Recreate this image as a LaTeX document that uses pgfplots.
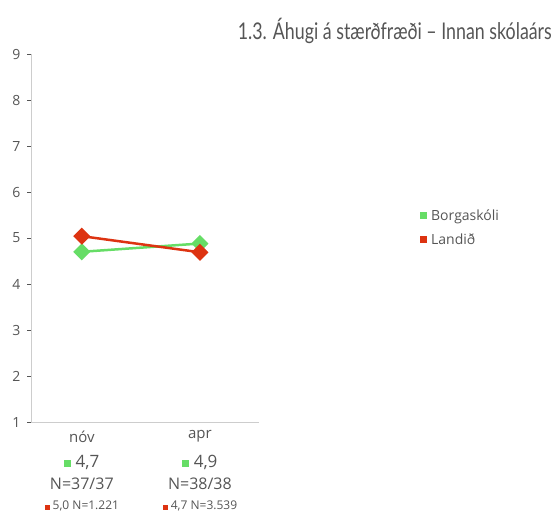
\documentclass[border=0pt]{standalone}
\usepackage{graphicx}
\usepackage{pgfplots}
\pgfplotsset{compat=1.18}
\usepackage{fontspec}
\setmainfont{Open Sans}
\newfontfamily\titlefont{Lato}
\definecolor{bgreen}{RGB}{102,221,102}
\definecolor{lred}{RGB}{221,51,17}
\definecolor{txt}{RGB}{85,85,85}
\definecolor{axgray}{RGB}{205,205,205}
\begin{document}
\begin{tikzpicture}[x=1pt,y=1pt]
\path[use as bounding box] (0,0) rectangle (554,512);
\clip (0,0) rectangle (554,512);
\node[text=txt, anchor=east, inner sep=0pt, font=\titlefont\fontsize{23}{27}\selectfont] at (552,481) {\resizebox{314pt}{\height}{1.3. Áhugi á stærðfræði – Innan skólaárs}};
\begin{axis}[
  at={(31pt,90pt)}, anchor=south west, scale only axis,
  width=228pt, height=368pt,
  xmin=-0.43, xmax=1.5, ymin=1, ymax=9,
  ytick={1,...,9}, xtick={0,1}, xticklabels={nóv,apr},
  axis x line*=bottom, axis y line*=left,
  axis line style={draw=axgray, line width=1pt, -},
  tick align=outside, major tick length=4pt,
  ytick style={draw=txt, line width=0.8pt},
  xtick style={draw=none},
  /pgf/number format/assume math mode=true,
  ticklabel style={text=txt, font=\fontsize{14}{16}\selectfont},
  yticklabel style={xshift=-3pt},
  xticklabel style={yshift=-1pt, font=\fontsize{15}{18}\selectfont},
  clip=false,
  legend cell align=left,
  legend style={at={(1.706,0.5285)}, anchor=west, draw=none, fill=none,
    inner xsep=0pt, text=txt, font=\fontsize{14}{16}\selectfont, row sep=8pt,
    nodes={inner xsep=4pt}},
  legend image code/.code={\fill[#1, draw=none] (0pt,-3.5pt) rectangle (7pt,3.5pt);},
]
\addplot[color=bgreen, line width=2.5pt, mark=square*, mark size=4.8pt, mark options={rotate=45}] coordinates {(0,4.70) (1,4.88)};
\addlegendentry{Borgaskóli}
\addplot[color=lred, line width=2.5pt, mark=square*, mark size=4.8pt, mark options={rotate=45}] coordinates {(0,5.04) (1,4.69)};
\addlegendentry{Landið}
\node[text=txt, font=\fontsize{17}{20}\selectfont] at (axis cs:0,1) [yshift=-40pt] {\textcolor{bgreen}{\rule{7pt}{7pt}} 4,7};
\node[text=txt, font=\fontsize{17}{20}\selectfont] at (axis cs:1,1) [yshift=-40pt] {\textcolor{bgreen}{\rule{7pt}{7pt}} 4,9};
\node[text=txt, font=\fontsize{16}{19}\selectfont] at (axis cs:0,1) [yshift=-62pt] {N=37/37};
\node[text=txt, font=\fontsize{16}{19}\selectfont] at (axis cs:1,1) [yshift=-62pt] {N=38/38};
\node[text=txt, font=\fontsize{12}{14}\selectfont] at (axis cs:0,1) [yshift=-84pt] {\textcolor{lred}{\rule{5pt}{5pt}} 5,0 N=1.221};
\node[text=txt, font=\fontsize{12}{14}\selectfont] at (axis cs:1,1) [yshift=-84pt] {\textcolor{lred}{\rule{5pt}{5pt}} 4,7 N=3.539};
\end{axis}
\end{tikzpicture}
\end{document}
